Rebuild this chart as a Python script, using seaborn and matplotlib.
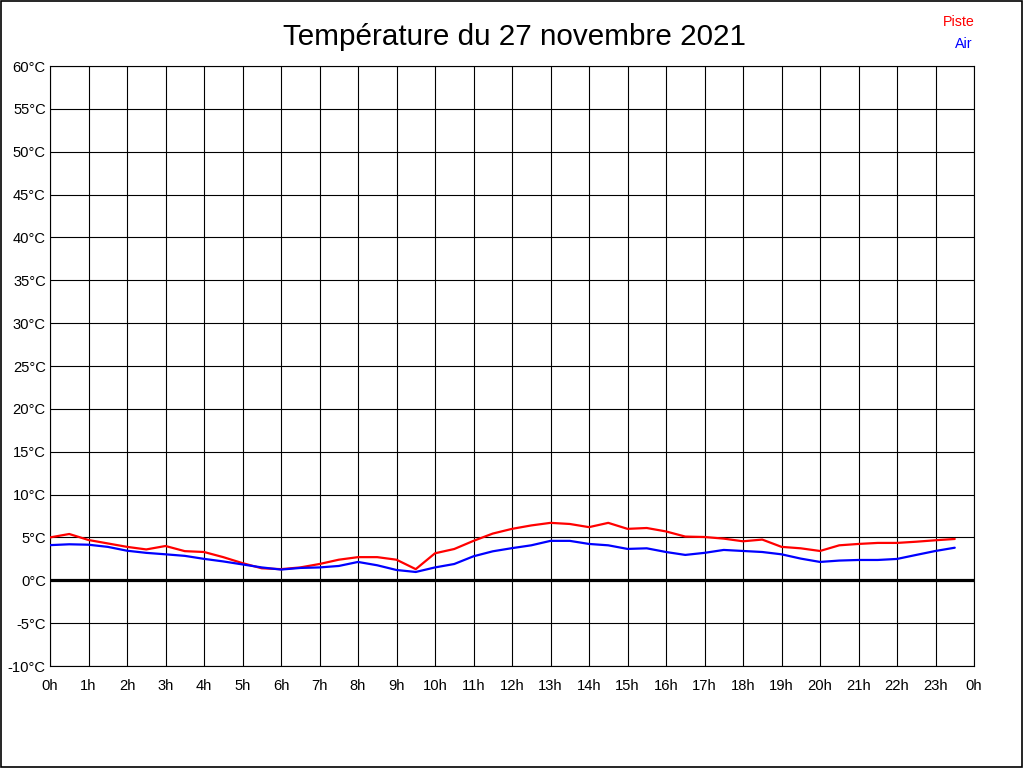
import matplotlib
matplotlib.use("Agg")
import matplotlib.pyplot as plt
import seaborn as sns
import pandas as pd
from matplotlib.patches import Rectangle

hours = [i * 0.5 for i in range(48)]

piste = [5.0, 5.4, 4.7, 4.3, 3.9, 3.6, 4.0, 3.4, 3.3, 2.7, 2.0, 1.4,
         1.3, 1.5, 1.9, 2.4, 2.7, 2.7, 2.4, 1.3, 3.15, 3.65, 4.6, 5.45,
         6.0, 6.4, 6.7, 6.57, 6.2, 6.7, 6.0, 6.1, 5.7, 5.1, 5.05, 4.86,
         4.55, 4.75, 3.9, 3.73, 3.42, 4.08, 4.24, 4.36, 4.36, 4.5, 4.67, 4.82]

air = [4.1, 4.2, 4.15, 3.9, 3.45, 3.2, 3.03, 2.85, 2.5, 2.2, 1.85, 1.5,
       1.25, 1.44, 1.5, 1.67, 2.14, 1.75, 1.2, 0.97, 1.5, 1.9, 2.8, 3.38,
       3.75, 4.08, 4.6, 4.6, 4.24, 4.08, 3.66, 3.73, 3.3, 2.96, 3.2, 3.54,
       3.42, 3.3, 3.03, 2.53, 2.14, 2.3, 2.37, 2.37, 2.49, 2.96, 3.42, 3.8]

x_ticks = list(range(0, 25))
x_labels = [f"{h % 24}h" for h in x_ticks]
y_ticks = list(range(-10, 61, 5))
y_labels = [f"{v}°C" for v in y_ticks]

df = pd.DataFrame({
    "heure": hours * 2,
    "temp": piste + air,
    "serie": ["Piste"] * len(piste) + ["Air"] * len(air),
})

sns.set_style("white")
plt.rcParams["font.family"] = ["Liberation Sans", "DejaVu Sans"]

fig = plt.figure(figsize=(10.24, 7.68), dpi=100)
ax = fig.add_axes([50 / 1024, (768 - 666) / 768, 924 / 1024, 600 / 768])

sns.lineplot(data=df, x="heure", y="temp", hue="serie",
             palette={"Piste": "#ff0000", "Air": "#0000ff"},
             linewidth=1.6, legend=False, ax=ax, zorder=3)

ax.set_xlim(0, 24)
ax.set_ylim(-10, 60)
ax.set_xticks(x_ticks)
ax.set_xticklabels(x_labels)
ax.set_yticks(y_ticks)
ax.set_yticklabels(y_labels)
ax.grid(True, color="black", linewidth=0.8)
ax.set_axisbelow(True)
ax.axhline(0, color="black", linewidth=2.3, zorder=2)
for s in ax.spines.values():
    s.set_color("black")
    s.set_linewidth(0.8)
ax.tick_params(axis="both", length=0, labelsize=10.6, colors="black", pad=3)
ax.tick_params(axis="x", pad=9.5)
ax.set_xlabel("")
ax.set_ylabel("")

fig.text(514.5 / 1024, 1 - 37 / 768, "Température du 27 novembre 2021",
         ha="center", va="center", fontsize=21.3, color="black")
fig.text(975 / 1024, 1 - 22 / 768, "Piste", ha="right", va="center",
         fontsize=10.3, color="#ff0000")
fig.text(973 / 1024, 1 - 44 / 768, "Air", ha="right", va="center",
         fontsize=10.3, color="#0000ff")

fig.patches.append(Rectangle((0.0005, 0.0007), 0.998, 0.9985, transform=fig.transFigure,
                             fill=False, edgecolor="black", linewidth=1.2))

fig.savefig("out.png", dpi=100)
